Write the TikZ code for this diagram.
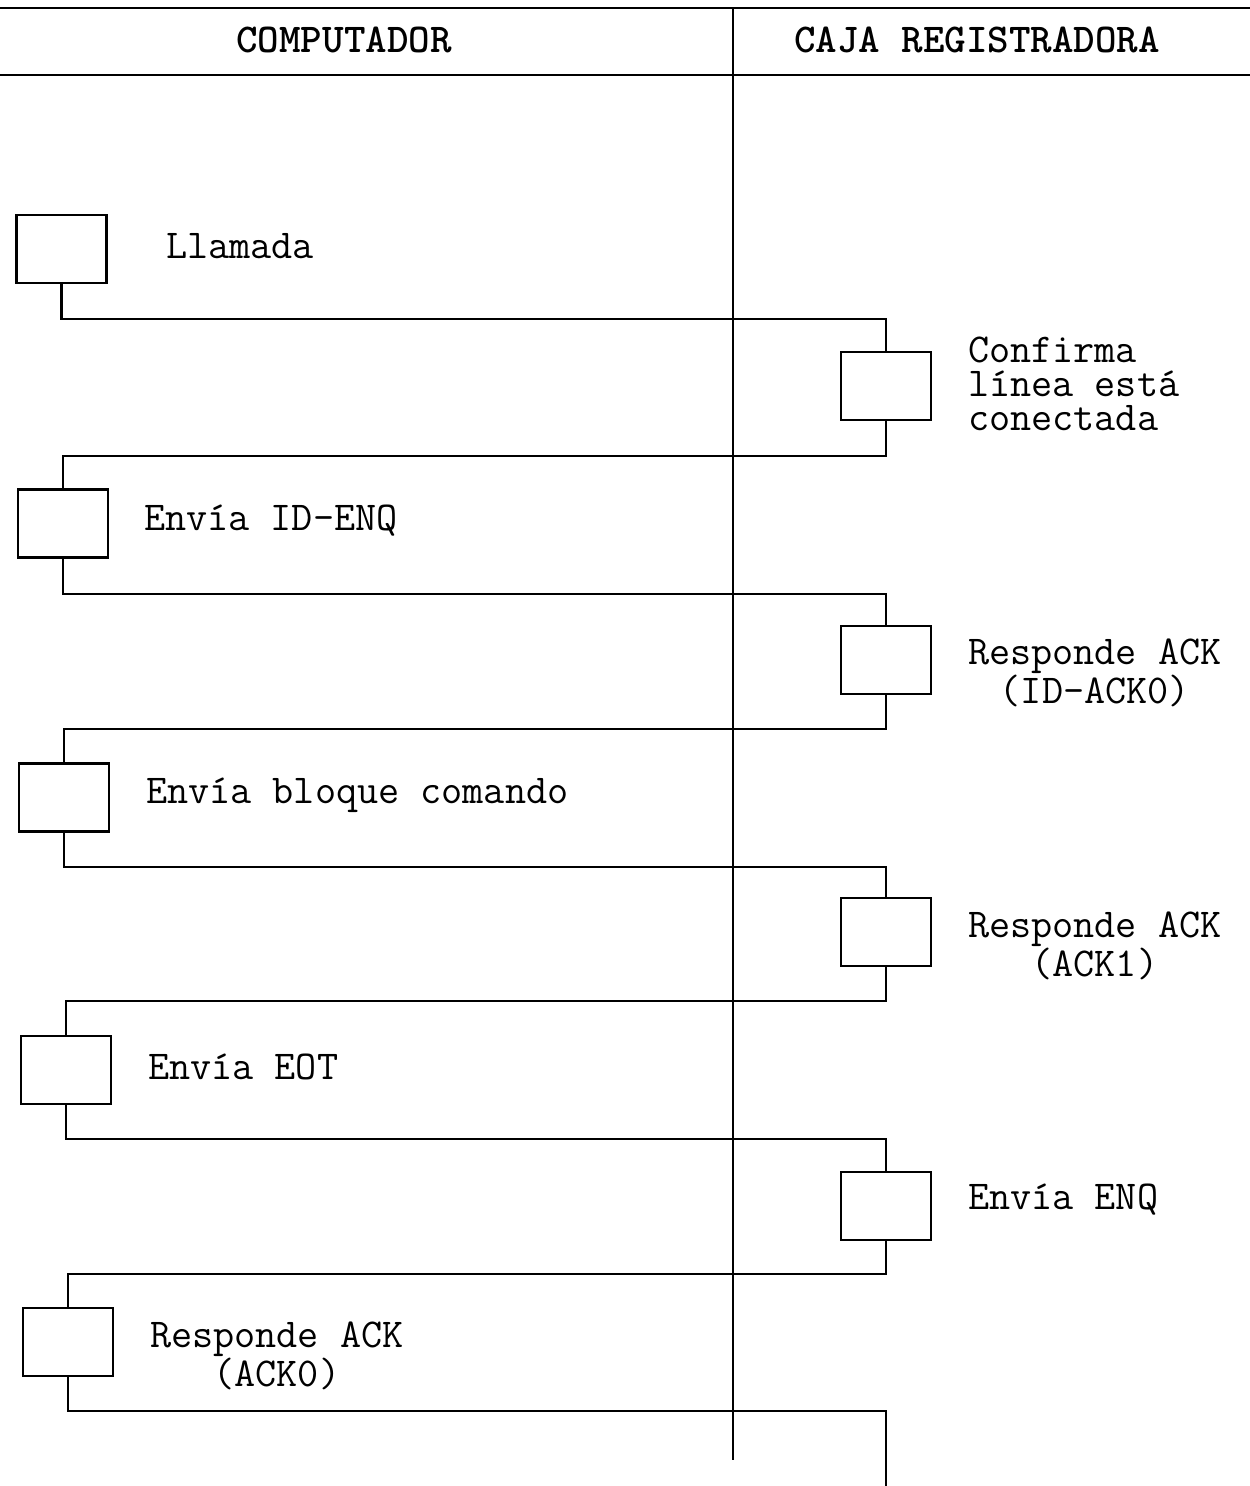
\documentclass[tikz,border=0pt]{standalone}
\usepackage{fontspec}
\newfontfamily\headfont{lmmonolt10-bold.otf}
\begin{document}
\begin{tikzpicture}[x=1pt,y=-1pt,
  line width=2.2pt,
  stepbox/.style={draw,minimum width=90pt,minimum height=68pt,inner sep=0pt},
  lbl/.style={anchor=west,inner sep=0pt,font=\ttfamily\fontsize{41}{34}\selectfont,align=left},
  lblc/.style={anchor=west,inner sep=0pt,font=\ttfamily\fontsize{41}{34}\selectfont,align=center},
  head/.style={inner sep=0pt,font=\headfont\fontsize{41}{34}\selectfont},
  wire/.style={draw,line width=2.2pt}]
\useasboundingbox (0,0) rectangle (1250,1486);
% header
\coordinate (hl1) at (0,8);
\coordinate (hr1) at (1250,8);
\coordinate (hl2) at (0,75);
\coordinate (hr2) at (1250,75);
\coordinate (vt) at (733,8);
\coordinate (vb) at (733,1460);
\draw (hl1) -- (hr1);
\draw (hl2) -- (hr2);
\draw (vt) -- (vb);
\node[head] (hc) at (344,40) {COMPUTADOR};
\node[head] (hr) at (977,40) {CAJA REGISTRADORA};
% boxes
\node[stepbox] (b1) at (61.5,249) {};
\node[stepbox] (r1) at (886,386) {};
\node[stepbox] (b2) at (63,523.5) {};
\node[stepbox] (r2) at (886,660) {};
\node[stepbox] (b3) at (64,797.5) {};
\node[stepbox] (r3) at (886,932) {};
\node[stepbox] (b4) at (66,1070) {};
\node[stepbox] (r4) at (886,1206) {};
\node[stepbox] (b5) at (68,1342) {};
\coordinate (fin) at (886,1486);
% connectors
\draw[wire] (b1.south) -- ++(0,35) -| (r1.north);
\draw[wire] (r1.south) -- ++(0,35) -| (b2.north);
\draw[wire] (b2.south) -- ++(0,35) -| (r2.north);
\draw[wire] (r2.south) -- ++(0,34) -| (b3.north);
\draw[wire] (b3.south) -- ++(0,34) -| (r3.north);
\draw[wire] (r3.south) -- ++(0,34) -| (b4.north);
\draw[wire] (b4.south) -- ++(0,34) -| (r4.north);
\draw[wire] (r4.south) -- ++(0,33) -| (b5.north);
\draw[wire] (b5.south) -- ++(0,34) -| (fin);
% labels
\node[lbl] (t1) at (165,246) {Llamada};
\node[lbl] (t2) at (967,384) {Confirma\\línea está\\conectada};
\node[lbl] (t3) at (143,521) {Envía ID-ENQ};
\node[lblc] (t4) at (967,673) {Responde ACK\\(ID-ACK0)};
\node[lbl] (t5) at (145,795) {Envía bloque comando};
\node[lblc] (t6) at (967,946) {Responde ACK\\(ACK1)};
\node[lbl] (t7) at (147,1067) {Envía EOT};
\node[lbl] (t8) at (967,1200) {Envía ENQ};
\node[lblc] (t9) at (149,1356) {Responde ACK\\(ACK0)};
\end{tikzpicture}
\end{document}
